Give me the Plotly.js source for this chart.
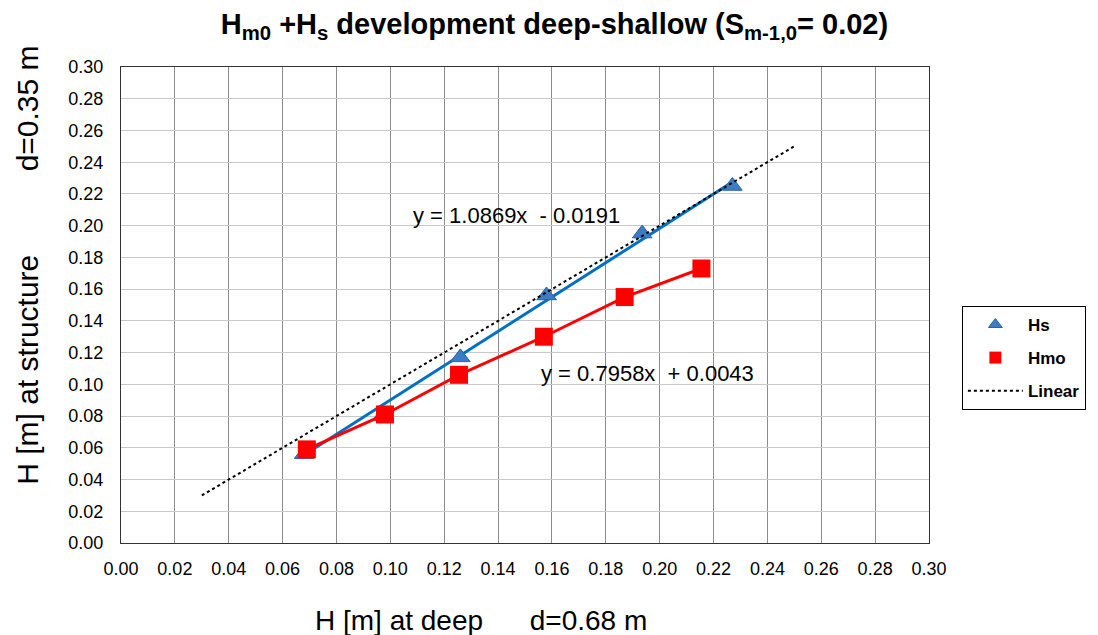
<!DOCTYPE html>
<html>
<head>
<meta charset="utf-8">
<script src="https://cdn.plot.ly/plotly-3.0.1.min.js"></script>
<style>html,body{margin:0;padding:0;background:#fff;}#chart{width:1098px;height:635px;}</style>
</head>
<body>
<div id="chart"></div>
<script>
// Data
const hsDeep = [0.068, 0.097, 0.126, 0.158, 0.1935, 0.227];
const hsStructure = [0.056, 0.080, 0.117, 0.156, 0.195, 0.225];
const hsTrendX = [0.0675, 0.227];
const hsTrendY = [0.055, 0.2275];
const hmoDeep = [0.069, 0.098, 0.1255, 0.157, 0.187, 0.2155];
const hmoStructure = [0.059, 0.081, 0.106, 0.130, 0.155, 0.173];
const linearX = [0.03, 0.25];
const linearY = [0.03, 0.25];
const tickVals = [0, 0.02, 0.04, 0.06, 0.08, 0.10, 0.12, 0.14, 0.16, 0.18, 0.20, 0.22, 0.24, 0.26, 0.28, 0.30];
const eqHs = "y = 1.0869x  - 0.0191";
const eqHmo = "y = 0.7958x  + 0.0043";
const xTitle = "H [m] at deep      d=0.68 m";
const yTitle = "H [m] at structure          d=0.35 m";

const font = "Liberation Sans, Arial, sans-serif";
const blue = "#0070C0";

const traces = [
  {x: hsTrendX, y: hsTrendY, type: "scatter", mode: "lines", showlegend: false, hoverinfo: "skip",
   line: {color: blue, width: 3}},
  {x: hsDeep, y: hsStructure, name: "Hs", type: "scatter", mode: "markers", showlegend: false,
   marker: {symbol: "triangle-up", size: 17, color: "#3C7CC4", line: {color: "#2A62A8", width: 1}}},
  {x: hmoDeep, y: hmoStructure, name: "Hmo", type: "scatter", mode: "lines+markers", showlegend: false,
   line: {color: "#FF0000", width: 3},
   marker: {symbol: "square", size: 18, color: "#FF0000"}},
  {x: linearX, y: linearY, name: "Linear", type: "scatter", mode: "lines", showlegend: false,
   line: {color: "#000000", width: 2, dash: "dot"}},
  // legend entries
  {x: [null], y: [null], name: "Hs", type: "scatter", mode: "markers", legendgroup: "a",
   marker: {symbol: "triangle-up", size: 12, color: "#3C7CC4", line: {color: "#2A62A8", width: 1}}},
  {x: [null], y: [null], name: "Hmo", type: "scatter", mode: "markers", legendgroup: "b",
   marker: {symbol: "square", size: 12, color: "#FF0000"}},
  {x: [null], y: [null], name: "Linear", type: "scatter", mode: "lines", legendgroup: "c",
   line: {color: "#000000", width: 2, dash: "dot"}}
];

const layout = {
  width: 1098, height: 635,
  margin: {l: 121, r: 167, t: 67, b: 92},
  paper_bgcolor: "#fff", plot_bgcolor: "#fff",
  font: {family: font, color: "#000"},
  title: {text: "<b>H<sub>m0</sub> +H<sub>s</sub> development deep-shallow (S<sub>m-1,0</sub>= 0.02)</b>",
          font: {size: 29, family: font}, x: 0.505, xanchor: "center", y: 0.962, yanchor: "middle"},
  xaxis: {range: [0, 0.30], tickvals: tickVals, tickformat: ".2f", showgrid: true, gridcolor: "#8C8C8C", gridwidth: 1,
          zeroline: false, showline: true, linecolor: "#333", linewidth: 1, mirror: true, ticks: "",
          ticklabelstandoff: 9, tickfont: {size: 18, family: font}},
  yaxis: {range: [0, 0.30], tickvals: tickVals, tickformat: ".2f", showgrid: true, gridcolor: "#C8C8C8", gridwidth: 1,
          zeroline: false, showline: true, linecolor: "#333", linewidth: 1, mirror: true, ticks: "",
          ticklabelstandoff: 13, tickfont: {size: 18, family: font}},
  showlegend: true,
  legend: {x: 1.0407, y: 0.498, xanchor: "left", yanchor: "top", bgcolor: "#fff",
           bordercolor: "#000", borderwidth: 1, font: {size: 17, family: font, weight: "bold"},
           tracegroupgap: 8, itemwidth: 55},
  annotations: [
    {x: 0.1468, y: 0.2067, xref: "x", yref: "y", text: eqHs, showarrow: false, font: {size: 22, family: font}},
    {x: 0.1954, y: 0.1071, xref: "x", yref: "y", text: eqHmo, showarrow: false, font: {size: 22, family: font}},
    {x: 0.446, y: -0.162, xref: "paper", yref: "paper", text: xTitle, showarrow: false,
     xanchor: "center", yanchor: "middle", font: {size: 28, family: font}},
    {x: -0.116, y: 0.583, xref: "paper", yref: "paper", text: yTitle, showarrow: false, textangle: -90,
     xanchor: "center", yanchor: "middle", font: {size: 30, family: font}}
  ]
};

Plotly.newPlot("chart", traces, layout, {displayModeBar: false, staticPlot: true});
</script>
</body>
</html>
